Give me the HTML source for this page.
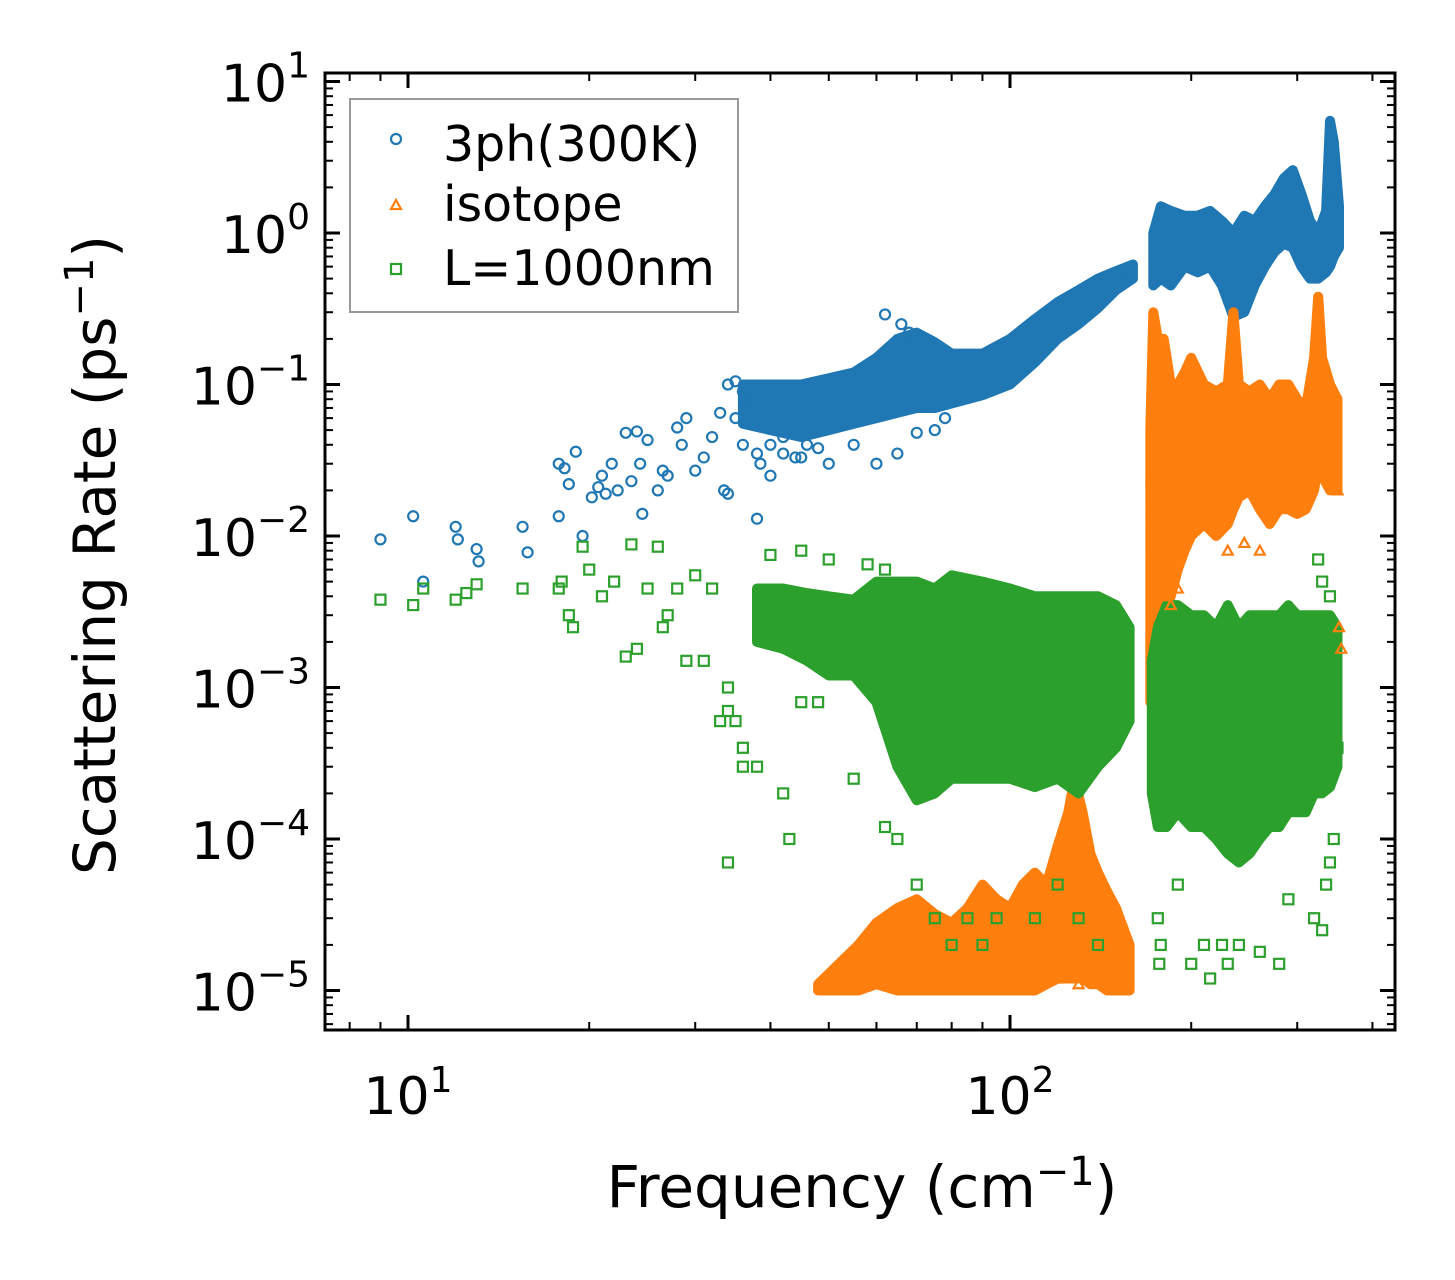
<!DOCTYPE html>
<html><head><meta charset="utf-8"><style>
html,body{margin:0;padding:0;background:#fff;}
svg{display:block;font-family:"DejaVu Sans","Liberation Sans",sans-serif;}
</style></head><body>
<svg id="chart" width="1455" height="1280" viewBox="0 0 1455 1280" xmlns="http://www.w3.org/2000/svg">
<g id="bands"></g>
<g id="points"></g>
<g id="axes"></g>
<text x="862" y="1207" font-size="58" text-anchor="middle">Frequency (cm<tspan dy="-22" font-size="40">−1</tspan><tspan dy="22">)</tspan></text>
<text transform="translate(115,555) rotate(-90)" font-size="58" text-anchor="middle">Scattering Rate (ps<tspan dy="-22" font-size="40">−1</tspan><tspan dy="22">)</tspan></text>
<g>
<rect x="350" y="99" width="388" height="213" fill="#fff" stroke="#999" stroke-width="2"/>
<circle cx="396" cy="139" r="5" fill="none" stroke="#1f77b4" stroke-width="2.2"/>
<text x="443" y="161" font-size="49">3ph(300K)</text>
<path d="M396,200 L401,209 L391,209 Z" fill="none" stroke="#ff7f0e" stroke-width="2.2"/>
<text x="443" y="221" font-size="49">isotope</text>
<rect x="391" y="264" width="10" height="10" fill="none" stroke="#2ca02c" stroke-width="2.2"/>
<text x="443" y="285" font-size="49">L=1000nm</text>
</g>
</svg>
<script>
// ---- data ----
const blueBandFreq = [36,40,45,50,55,60,65,70,75,80,90,100,110,120,130,140,150,160];
const blueBandLow  = [0.055,0.05,0.045,0.05,0.055,0.06,0.065,0.07,0.07,0.075,0.085,0.1,0.14,0.2,0.25,0.32,0.42,0.5];
const blueBandHigh = [0.1,0.1,0.1,0.11,0.12,0.15,0.2,0.22,0.19,0.16,0.16,0.2,0.27,0.35,0.42,0.5,0.56,0.62];
const blueBand2Freq = [173,178,185,195,205,215,225,235,245,255,265,275,285,295,305,315,325,335,340,345,352];
const blueBand2Low  = [0.45,0.5,0.45,0.6,0.55,0.6,0.45,0.28,0.3,0.45,0.6,0.75,0.85,0.8,0.6,0.5,0.5,0.55,0.6,0.7,0.8];
const blueBand2High = [1.0,1.5,1.4,1.3,1.3,1.4,1.2,1.0,1.3,1.2,1.5,1.8,2.3,2.6,1.8,1.2,1.0,1.4,5.5,4,1.5];
const blueFreq = [9,10.2,10.6,12,12.1,13,13.1,15.5,15.8,17.8,17.8,18.2,18.5,19,19.5,20.2,20.7,21,21.3,21.8,22.3,23,23.5,24,24.3,24.5,25,26,26.5,27,28,28.5,29,30,31,32,33,33.5,34,35,36,38,38.5,40,42,45,50,55,60,65,70,75,78,62,66,68,34,35,36,37,38,40,42,44,46,48];
const blueRate = [0.0095,0.0135,0.005,0.0115,0.0095,0.0082,0.0068,0.0115,0.0078,0.0135,0.03,0.028,0.022,0.036,0.01,0.018,0.021,0.025,0.019,0.03,0.02,0.048,0.023,0.049,0.03,0.014,0.043,0.02,0.027,0.025,0.052,0.04,0.06,0.027,0.033,0.045,0.065,0.02,0.019,0.06,0.04,0.013,0.03,0.025,0.045,0.033,0.03,0.04,0.03,0.035,0.048,0.05,0.06,0.29,0.25,0.22,0.1,0.105,0.09,0.08,0.035,0.04,0.035,0.033,0.04,0.038];

const orangeBandFreq = [48,52,56,60,65,70,75,80,85,90,95,100,105,110,115,120,125,128,132,136,140,145,150,158];
const orangeBandLow  = [1e-5,1e-5,1e-5,1.1e-5,1e-5,1e-5,1e-5,1e-5,1e-5,1e-5,1e-5,1e-5,1e-5,1e-5,1.1e-5,1.2e-5,1.2e-5,1.2e-5,1.2e-5,1.1e-5,1.1e-5,1e-5,1e-5,1e-5];
const orangeBandHigh = [1.1e-5,1.5e-5,2e-5,2.8e-5,3.5e-5,4e-5,3.2e-5,2.8e-5,3.5e-5,5e-5,4e-5,3.5e-5,5e-5,6e-5,5e-5,9e-5,1.5e-4,2.5e-4,1.5e-4,8e-5,6e-5,4.5e-5,3.5e-5,2e-5];
const orangeBand2Freq = [171,173,176,180,185,190,195,200,210,220,230,235,240,250,260,270,280,290,300,310,320,325,330,340,350];
const orangeBand2Low  = [8e-4,1.2e-3,2e-3,3e-3,4e-3,6e-3,8e-3,0.01,0.012,0.01,0.012,0.015,0.018,0.02,0.015,0.012,0.015,0.015,0.014,0.015,0.02,0.03,0.025,0.02,0.02];
const orangeBand2High = [0.05,0.3,0.2,0.2,0.1,0.1,0.12,0.15,0.1,0.09,0.1,0.3,0.1,0.09,0.1,0.08,0.1,0.1,0.08,0.07,0.15,0.38,0.15,0.1,0.08];
const orangeFreq = [172,175,178,182,185,190,230,245,260,340,345,350,352,355,120,130,140,150];
const orangeRate = [0.025,0.01,0.006,0.004,0.0035,0.0045,0.008,0.009,0.008,0.035,0.025,0.02,0.0025,0.0018,1.2e-5,1.1e-5,1.5e-5,1.2e-5];

const greenBandFreq = [38,42,46,50,55,60,65,70,75,80,90,100,110,120,130,140,150,158];
const greenBandLow  = [2e-3,1.8e-3,1.5e-3,1.2e-3,1.2e-3,8e-4,3e-4,1.8e-4,2e-4,2.5e-4,2.5e-4,2.5e-4,2.2e-4,2.5e-4,2e-4,3e-4,4e-4,6e-4];
const greenBandHigh = [4.5e-3,4.5e-3,4.2e-3,4e-3,3.8e-3,5e-3,5e-3,5e-3,4.5e-3,5.5e-3,5e-3,4.5e-3,4e-3,4e-3,4e-3,4e-3,3.5e-3,2.5e-3];
const greenBand2Freq = [172,176,182,190,200,210,220,230,240,250,260,270,280,290,300,310,320,330,340,350];
const greenBand2Low  = [2e-4,1.2e-4,1.2e-4,1.5e-4,1.2e-4,1.2e-4,1e-4,8e-5,7e-5,8e-5,1e-4,1.2e-4,1.2e-4,1.5e-4,1.5e-4,1.5e-4,2e-4,2e-4,2.2e-4,3e-4];
const greenBand2High = [1.5e-3,2.5e-3,3.5e-3,3.5e-3,3e-3,3e-3,2.5e-3,3.5e-3,2.5e-3,3e-3,3e-3,3e-3,3e-3,3.5e-3,3e-3,3e-3,3e-3,3e-3,3e-3,2.5e-3];
const greenFreq = [9,10.2,10.6,12,12.5,13,15.5,17.8,18,18.5,18.8,19.5,20,21,22,23,23.5,24,25,26,26.5,27,28,29,31,33,34,34,35,36,36,38,34,43,42,45,48,55,62,65,70,75,80,85,90,95,110,120,130,140,176,177,178,190,200,210,215,225,230,240,260,280,290,320,330,335,345,340,325,330,340,350,30,32,40,45,50,58,62];
const greenRate = [0.0038,0.0035,0.0045,0.0038,0.0042,0.0048,0.0045,0.0045,0.005,0.003,0.0025,0.0085,0.006,0.004,0.005,0.0016,0.0088,0.0018,0.0045,0.0085,0.0025,0.003,0.0045,0.0015,0.0015,0.0006,0.001,0.0007,0.0006,0.0004,0.0003,0.0003,0.00007,0.0001,0.0002,0.0008,0.0008,0.00025,0.00012,0.0001,0.00005,0.00003,0.00002,0.00003,0.00002,0.00003,0.00003,0.00005,0.00003,0.00002,0.00003,0.000015,0.00002,0.00005,0.000015,0.00002,0.000012,0.00002,0.000015,0.00002,0.000018,0.000015,0.00004,0.00003,0.000025,0.00005,0.0001,0.00007,0.007,0.005,0.004,0.0004,0.0055,0.0045,0.0075,0.008,0.007,0.0065,0.006];

const xMajorTicks = [10,100];
const xMajorLabels = ["1","2"];
const yMajorExps = [1,0,-1,-2,-3,-4,-5];

// ---- axes functions ----
const L=325,R=1395,T=73,B=1030;
const X10=408, XDEC=602, Y0=233, YDEC=151.5;
const xs = f => X10 + (Math.log10(f)-1)*XDEC;
const ys = v => Y0 - Math.log10(v)*YDEC;
const NS="http://www.w3.org/2000/svg";
function mk(tag, attrs, parent){const e=document.createElementNS(NS,tag);for(const k in attrs)e.setAttribute(k,attrs[k]);parent.appendChild(e);return e;}

const bands=document.getElementById('bands'), pts=document.getElementById('points'), axes=document.getElementById('axes');
const clip=mk('clipPath',{id:'plotclip'},document.getElementById('chart'));
mk('rect',{x:L,y:T,width:R-L,height:B-T},clip);
bands.setAttribute('clip-path','url(#plotclip)');
pts.setAttribute('clip-path','url(#plotclip)');

function band(fr,lo,hi,color,name){
  let d='M'+fr.map((f,i)=>xs(f).toFixed(1)+','+ys(hi[i]).toFixed(1)).join(' L');
  for(let i=fr.length-1;i>=0;i--) d+=' L'+xs(fr[i]).toFixed(1)+','+ys(lo[i]).toFixed(1);
  d+=' Z';
  const p=mk('path',{d:d,fill:color,stroke:color,'stroke-width':10,'stroke-linejoin':'round'},bands);
  
  
}
function circles(fr,v,color,name){
  fr.forEach((f,i)=>{const c=mk('circle',{cx:xs(f),cy:ys(v[i]),r:5,fill:'none',stroke:color,'stroke-width':2.2},pts);
    
    });
}
function tris(fr,v,color,name){
  fr.forEach((f,i)=>{const x=xs(f),y=ys(v[i]);const t=mk('path',{d:`M${x},${y-5} L${x+5},${y+4} L${x-5},${y+4} Z`,fill:'none',stroke:color,'stroke-width':2.2},pts);
    
    });
}
function squares(fr,v,color,name){
  fr.forEach((f,i)=>{const s=mk('rect',{x:xs(f)-5,y:ys(v[i])-5,width:10,height:10,fill:'none',stroke:color,'stroke-width':2.2},pts);
    
    });
}

band(blueBandFreq,blueBandLow,blueBandHigh,'#1f77b4','3ph-band-low');
band(blueBand2Freq,blueBand2Low,blueBand2High,'#1f77b4','3ph-band-high');
circles(blueFreq,blueRate,'#1f77b4','3ph-point');
band(orangeBandFreq,orangeBandLow,orangeBandHigh,'#ff7f0e','isotope-band-low');
band(orangeBand2Freq,orangeBand2Low,orangeBand2High,'#ff7f0e','isotope-band-high');
tris(orangeFreq,orangeRate,'#ff7f0e','isotope-point');
band(greenBandFreq,greenBandLow,greenBandHigh,'#2ca02c','boundary-band-low');
band(greenBand2Freq,greenBand2Low,greenBand2High,'#2ca02c','boundary-band-high');
squares(greenFreq,greenRate,'#2ca02c','boundary-point');

// frame
const fr=mk('rect',{x:L,y:T,width:R-L,height:B-T,fill:'none',stroke:'#000','stroke-width':3},axes);



// x ticks
const xMinor=[8,9,20,30,40,50,60,70,80,90,200,300,400];
xMinor.forEach(f=>{const x=xs(f);
  mk('line',{x1:x,y1:B,x2:x,y2:B-8,stroke:'#000','stroke-width':2},axes);
  mk('line',{x1:x,y1:T,x2:x,y2:T+8,stroke:'#000','stroke-width':2},axes);});
xMajorTicks.forEach((f,i)=>{const x=xs(f);
  mk('line',{x1:x,y1:B,x2:x,y2:B-15,stroke:'#000','stroke-width':3},axes);
  mk('line',{x1:x,y1:T,x2:x,y2:T+15,stroke:'#000','stroke-width':3},axes);
  const t=mk('text',{x:x,y:1114,'font-size':52,'text-anchor':'middle'},axes);
  
  
  t.appendChild(document.createTextNode('10'));
  const s=mk('tspan',{dy:-22,'font-size':36},t); s.textContent=xMajorLabels[i];});

// y ticks
for(let e=-6;e<=1;e++){
  for(let m=2;m<=9;m++){const v=m*Math.pow(10,e);const y=ys(v);
    if(y<T||y>B) continue;
    mk('line',{x1:L,y1:y,x2:L+8,y2:y,stroke:'#000','stroke-width':2},axes);
    mk('line',{x1:R,y1:y,x2:R-8,y2:y,stroke:'#000','stroke-width':2},axes);}
}
yMajorExps.forEach(e=>{const y=ys(Math.pow(10,e));
  mk('line',{x1:L,y1:y,x2:L+15,y2:y,stroke:'#000','stroke-width':3},axes);
  mk('line',{x1:R,y1:y,x2:R-15,y2:y,stroke:'#000','stroke-width':3},axes);
  const t=mk('text',{x:310,y:y+20,'font-size':52,'text-anchor':'end'},axes);
  
  
  t.appendChild(document.createTextNode('10'));
  const s=mk('tspan',{dy:-24,'font-size':36},t); s.textContent=(e<0?'−':'')+Math.abs(e);});
</script>
</body></html>
